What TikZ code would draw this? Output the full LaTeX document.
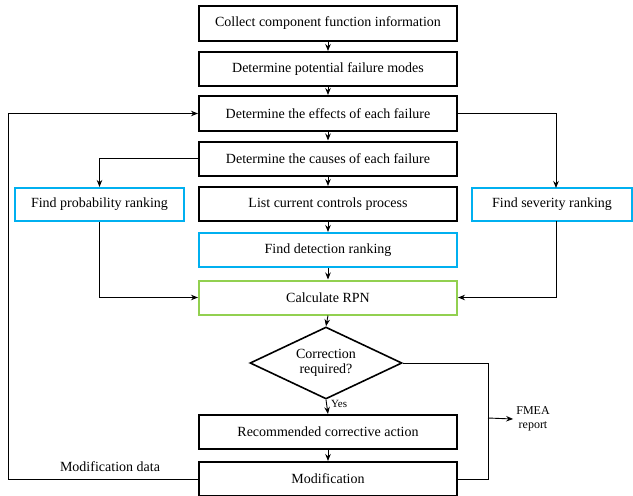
\documentclass[tikz,border=0pt]{standalone}
\usepackage{fontspec}
\setmainfont{Liberation Serif}
\usetikzlibrary{shapes.geometric,arrows.meta}
\definecolor{cblue}{RGB}{0,176,240}
\definecolor{cgreen}{RGB}{146,208,80}
\begin{document}
\begin{tikzpicture}[x=1pt,y=-1pt,
  txt/.style={font=\fontsize{14}{15.5}\selectfont},
  box/.style={draw, line width=2pt, minimum width=258pt, minimum height=34pt, inner sep=0pt, txt},
  bluebox/.style={box, draw=cblue},
  greenbox/.style={box, draw=cgreen},
  arr/.style={-{Stealth[length=7pt,width=5.5pt]}, line width=0.9pt},
  ln/.style={line width=0.9pt}]
\useasboundingbox (0,0) rectangle (633,496);
\node[box, minimum height=35pt] (b1) at (328,23.5) {Collect component function information};
\node[box] (b2) at (328,69) {Determine potential failure modes};
\node[box, minimum height=35pt] (b3) at (328,113.5) {Determine the effects of each failure};
\node[box] (b4) at (328,158.5) {Determine the causes of each failure};
\node[box] (b5) at (328,204) {List current controls process};
\node[bluebox] (b6) at (328,250) {Find detection ranking};
\node[greenbox] (b7) at (328,297.5) {Calculate RPN};
\node[draw, shape=diamond, shape aspect=2.1, line width=1.6pt, minimum width=152pt, minimum height=72pt, inner sep=0pt, align=center, txt] (d) at (326,363) {Correction\\required?};
\node[box] (b8) at (328,432) {Recommended corrective action};
\node[box] (b9) at (328,479) {Modification};
\node[bluebox, minimum width=169pt, minimum height=33pt] (pl) at (99.5,204.5) {Find probability ranking};
\node[bluebox, minimum width=160pt, minimum height=33pt] (sv) at (552,204.5) {Find severity ranking};
\node[align=center, inner sep=0pt, font=\fontsize{12}{13.5}\selectfont] (fm) at (533,419) {FMEA\\report};
\node[inner sep=0pt, txt] (md) at (110,467) {Modification data};
\coordinate (sn) at (556,188);
\coordinate (ss) at (556,221);
\coordinate (t1) at (488,363);
\coordinate (t2) at (488,479);
\coordinate (t3) at (488,418);
\coordinate (l1) at (8,479);
\coordinate (l2) at (8,113.5);
\draw[arr] (b1.south) -- (b2.north);
\draw[arr] (b2.south) -- (b3.north);
\draw[arr] (b3.south) -- (b4.north);
\draw[arr] (b4.south) -- (b5.north);
\draw[arr] (b5.south) -- (b6.north);
\draw[arr] (b6.south) -- (b7.north);
\draw[arr] (b7.south) -- (d.north);
\draw[arr] (d.south) -- node[right, pos=0.3, inner sep=4pt, font=\fontsize{11}{12}\selectfont] {Yes} (b8.north);
\draw[arr] (b8.south) -- (b9.north);
\draw[arr] (b4.west) -| (pl.north);
\draw[arr] (pl.south) |- (b7.west);
\draw[arr] (b3.east) -| (sn);
\draw[arr] (ss) |- (b7.east);
\draw[ln] (d.east) -- (t1) -- (t2) -- (b9.east);
\draw[arr] (t3) -- ([xshift=-3pt]fm.west);
\draw[arr] (b9.west) -- (l1) -- (l2) -- (b3.west);
\end{tikzpicture}
\end{document}
